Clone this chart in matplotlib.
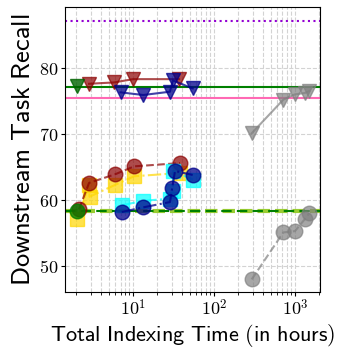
import numpy as np
import matplotlib
matplotlib.use('Agg')
import matplotlib.pyplot as plt
from matplotlib.ticker import FixedLocator, FuncFormatter

plt.rcParams['mathtext.fontset'] = 'cm'

# 三角形：上层结果
red_tri_x = [2.86, 5.8, 10.0, 37.0]
red_tri_y = [77.6, 77.8, 78.3, 78.3]
green_tri_x = [2.02]
green_tri_y = [77.2]
blue_tri_x = [7.0, 13.4, 28.6, 31.0, 54.5]
blue_tri_y = [76.3, 75.9, 76.4, 78.1, 76.9]
gray_tri_x = [292, 718, 1000, 1320, 1500]
gray_tri_y = [70.1, 75.2, 76.0, 76.2, 76.5]

# 圆点/方块：下层结果
red_circ_x = [2.15, 2.86, 6.0, 10.3, 38.0]
red_circ_y = [58.6, 62.6, 63.9, 65.1, 65.6]
gold_sq_x = [2.05, 2.86, 2.9, 6.0, 10.3, 38.0]
gold_sq_y = [57.2, 62.3, 60.5, 62.3, 63.6, 64.1]
green_circ_x = [2.02]
green_circ_y = [58.3]
cyan_sq_x = [7.25, 13.4, 28.6, 30.8, 31.5, 55.0]
cyan_sq_y = [59.2, 59.9, 60.2, 61.3, 64.4, 63.1]
blue_circ_x = [7.25, 13.4, 28.6, 30.5, 33.0, 54.5]
blue_circ_y = [58.2, 58.9, 59.7, 61.9, 64.4, 63.8]
gray_circ_x = [292, 718, 1000, 1320, 1500]
gray_circ_y = [48.0, 55.1, 55.3, 57.1, 58.0]

# 参考水平线
purple_ref = 87.1
green_ref = 77.1
pink_ref = 75.4
green_dash_ref = 58.3

fig = plt.figure(figsize=(3.43, 3.56), dpi=100)
ax = fig.add_axes([0.19, 0.18, 0.743, 0.80])

ax.axhline(purple_ref, color='darkviolet', ls=':', lw=1.5)
ax.axhline(green_ref, color='green', ls='-', lw=1.5)
ax.axhline(pink_ref, color='hotpink', ls='-', lw=1.5)
ax.axhline(green_dash_ref, color='yellowgreen', lw=3, dashes=(3, 1.2))
ax.axhline(green_dash_ref, color='green', lw=1.5, dashes=(5, 2.5))

ms = 10.5
ax.plot(red_tri_x, red_tri_y, 'v-', color='darkred', alpha=0.7, ms=ms)
ax.plot(green_tri_x, green_tri_y, 'v', color='darkgreen', alpha=0.8, ms=ms)
ax.plot(blue_tri_x, blue_tri_y, 'v-', color='darkblue', alpha=0.75, ms=ms)
ax.plot(gray_tri_x, gray_tri_y, 'v-', color='gray', alpha=0.7, ms=ms)

ax.plot(gold_sq_x, gold_sq_y, 's-.', color='gold', alpha=0.7, ms=ms)
ax.plot(red_circ_x, red_circ_y, 'o--', color='darkred', alpha=0.7, ms=ms)
ax.plot(cyan_sq_x, cyan_sq_y, 's-.', color='cyan', alpha=0.7, ms=ms)
ax.plot(blue_circ_x, blue_circ_y, 'o-.', color='darkblue', alpha=0.75, ms=ms)
ax.plot(green_circ_x, green_circ_y, 'o', color='green', alpha=0.8, ms=ms)
ax.plot(gray_circ_x, gray_circ_y, 'o--', color='gray', alpha=0.7, ms=ms)

ax.set_xscale('log')
ax.set_xlim(1.45, 2040)
ax.set_ylim(46.1, 89.2)
ax.yaxis.set_major_locator(FixedLocator([50, 60, 70, 80]))
ax.yaxis.set_major_formatter(FuncFormatter(lambda v, p: r'$%d$' % v))
ax.xaxis.set_major_formatter(FuncFormatter(lambda v, p: r'$10^{%d}$' % round(np.log10(v))))
ax.tick_params(labelsize=13, length=3, pad=2)
ax.tick_params(which='minor', length=2)

ax.grid(True, which='major', ls='--', color='lightgray', lw=0.8)
ax.grid(True, which='minor', axis='x', ls='--', color='lightgray', lw=0.8)
for s in ax.spines.values():
    s.set_color('black')

ax.set_xlabel(r'$\mathsf{Total\ Indexing\ Time\ (in\ hours)}$', fontsize=16, labelpad=2)
ax.set_ylabel(r'$\mathsf{Downstream\ Task\ Recall}$', fontsize=19, labelpad=2)

fig.savefig('out.png', dpi=100)
